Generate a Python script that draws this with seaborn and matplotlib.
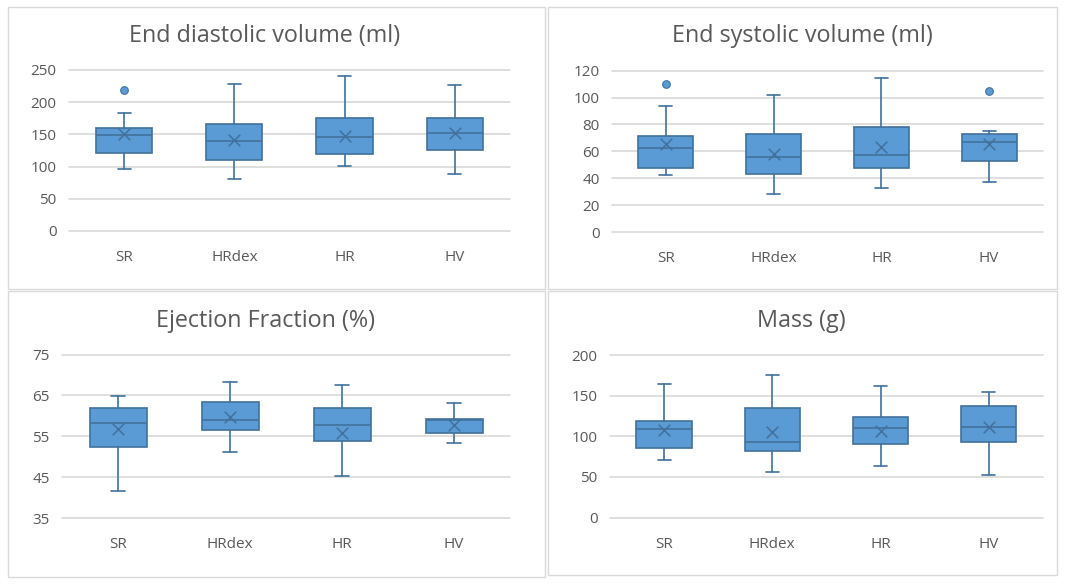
import matplotlib
matplotlib.use("Agg")
import matplotlib.pyplot as plt
import seaborn as sns
from matplotlib.patches import Rectangle

sns.set_theme(style="white")
plt.rcParams['font.family'] = ['Open Sans', 'DejaVu Sans']

groups = ['SR', 'HRdex', 'HR', 'HV']

# End diastolic volume (ml)
edv_low = [95.8, 80.2, 100.4, 88.0]
edv_q1 = [121.6, 110.8, 120.0, 126.3]
edv_med = [149.6, 139.8, 146.0, 151.7]
edv_q3 = [160.0, 166.0, 175.5, 175.5]
edv_high = [182.7, 227.7, 240.0, 226.0]
edv_mean = [150.0, 140.8, 147.0, 152.7]
edv_out = [[218.4], [], [], []]

# End systolic volume (ml)
esv_low = [42.6, 28.2, 32.7, 37.1]
esv_q1 = [47.3, 43.0, 47.5, 53.2]
esv_med = [62.3, 55.9, 57.4, 66.8]
esv_q3 = [71.5, 72.7, 78.2, 72.7]
esv_high = [93.5, 101.7, 114.3, 75.0]
esv_mean = [65.6, 57.9, 63.0, 65.3]
esv_out = [[109.8], [], [], [104.7]]

# Ejection fraction (%)
ef_low = [41.6, 51.1, 45.2, 53.3]
ef_q1 = [52.5, 56.6, 53.8, 55.9]
ef_med = [58.3, 58.9, 57.8, 59.0]
ef_q3 = [62.0, 63.3, 61.9, 59.3]
ef_high = [64.8, 68.4, 67.5, 63.1]
ef_mean = [56.9, 59.7, 55.9, 57.8]
ef_out = [[], [], [], []]

# Mass (g)
mass_low = [70.5, 55.7, 63.1, 52.0]
mass_q1 = [85.2, 82.4, 90.2, 92.6]
mass_med = [108.6, 92.6, 110.2, 111.1]
mass_q3 = [118.9, 134.8, 124.2, 137.3]
mass_high = [163.9, 175.0, 161.5, 154.1]
mass_mean = [108.2, 105.3, 106.1, 111.5]
mass_out = [[], [], [], []]

fill = '#5B9BD5'
edge = '#41719C'
grid = '#D9D9D9'
txt = '#595959'

panels = [
    ("End diastolic volume (ml)", edv_low, edv_q1, edv_med, edv_q3, edv_high, edv_mean, edv_out,
     [0, 50, 100, 150, 200, 250], [0.0645, 0.6045, 0.412, 0.2757], (8, 7, 545, 289), 265),
    ("End systolic volume (ml)", esv_low, esv_q1, esv_med, esv_q3, esv_high, esv_mean, esv_out,
     [0, 20, 40, 60, 80, 100, 120], [0.572, 0.6027, 0.4028, 0.2762], (548, 7, 1057, 289), 802),
    ("Ejection Fraction (%)", ef_low, ef_q1, ef_med, ef_q3, ef_high, ef_mean, ef_out,
     [35, 45, 55, 65, 75], [0.058, 0.113, 0.4187, 0.2797], (8, 291, 545, 577), 266),
    ("Mass (g)", mass_low, mass_q1, mass_med, mass_q3, mass_high, mass_mean, mass_out,
     [0, 50, 100, 150, 200], [0.570, 0.1137, 0.4047, 0.2784], (548, 291, 1057, 575), 801),
]

W, H = 1070, 584
fig = plt.figure(figsize=(W / 100, H / 100), dpi=100)
fig.patch.set_facecolor('white')

for title, lo, q1, med, q3, hi, mean, out, ticks, pos, box, tx in panels:
    x0, y0, x1, y1 = box
    fig.add_artist(Rectangle((x0 / W, 1 - y1 / H), (x1 - x0) / W, (y1 - y0) / H,
                             transform=fig.transFigure, fill=False, edgecolor=grid, lw=1))
    fig.text(tx / W, 1 - 36 / H if y0 < 100 else 1 - 321 / H, title, ha='center', va='center',
             fontsize=16.8, color=txt)

    ax = fig.add_axes(pos)
    stats = []
    for i in range(len(groups)):
        stats.append(dict(whislo=lo[i], q1=q1[i], med=med[i], q3=q3[i], whishi=hi[i],
                          fliers=out[i], label=groups[i]))
    ax.bxp(stats, positions=range(len(groups)), widths=0.51, patch_artist=True,
           showfliers=True,
           boxprops=dict(facecolor=fill, edgecolor=edge, linewidth=1.2),
           medianprops=dict(color=edge, linewidth=1.2),
           whiskerprops=dict(color=edge, linewidth=1.2),
           capprops=dict(color=edge, linewidth=1.2),
           capwidths=0.12,
           flierprops=dict(marker='o', markerfacecolor=fill, markeredgecolor=edge,
                           markersize=5.5, markeredgewidth=0.8), zorder=3)
    sns.scatterplot(x=list(range(len(groups))), y=mean, marker='x', s=70, color=edge,
                    linewidth=1.1, ax=ax, zorder=4)

    ax.set_xlim(-0.5, len(groups) - 0.5)
    ax.set_ylim(ticks[0], ticks[-1])
    ax.set_yticks(ticks)
    ax.set_yticklabels([str(t) for t in ticks])
    ax.set_xticks(range(len(groups)))
    ax.set_xticklabels(groups)
    ax.tick_params(axis='both', length=0, labelsize=11, labelcolor=txt)
    ax.tick_params(axis='x', pad=14)
    ax.tick_params(axis='y', pad=9)
    for t in ticks:
        ax.axhline(t, color=grid, lw=1.2, zorder=1, clip_on=False)
    for s in ax.spines.values():
        s.set_visible(False)
    ax.set_facecolor('white')

fig.savefig('out.png', dpi=100)
